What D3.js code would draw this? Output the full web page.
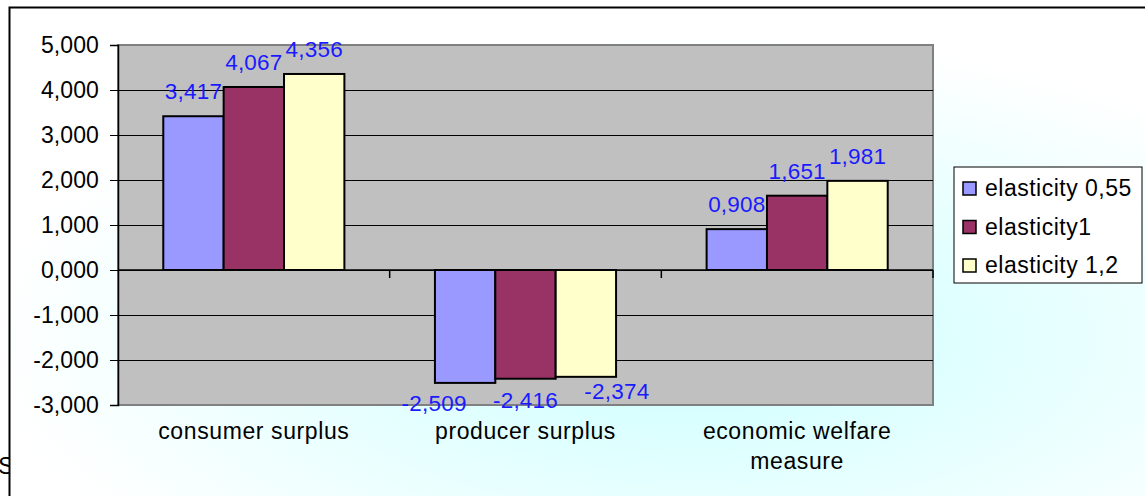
<!DOCTYPE html>
<html>
<head>
<meta charset="utf-8">
<script src="https://cdn.jsdelivr.net/npm/d3@7"></script>
<style>
  html, body { margin: 0; padding: 0; background: #fff; }
  svg text { font-family: Arial, "Liberation Sans", sans-serif; }
</style>
</head>
<body>
<div id="chart"></div>
<script>
// data
const categories = ["consumer surplus", "producer surplus", "economic welfare measure"]
const seriesNames = ["elasticity 0,55", "elasticity1", "elasticity 1,2"]
const elasticity055 = [3.417, -2.509, 0.908]
const elasticity1 = [4.067, -2.416, 1.651]
const elasticity12 = [4.356, -2.374, 1.981]
const yTicks = [-3, -2, -1, 0, 1, 2, 3, 4, 5]

// consts
const width = 1145
const height = 496
const plot = { left: 118, right: 933, top: 45, bottom: 405 }
const colors = ["#9999ff", "#993366", "#ffffcc"]
const gapWidth = 1.5 // excel gap width 150%
// excel pushed the negative labels apart a bit
const negLabelDx = [-31, 0, 31]
const negLabelDy = [28, 29, 22]

const series = [elasticity055, elasticity1, elasticity12]
const locale = d3.formatLocale({ decimal: ",", thousands: ".", grouping: [3], currency: ["", ""], minus: "-" })
const fmt = locale.format(".3f")

const svg = d3.select("#chart").append("svg")
  .attr("width", width)
  .attr("height", height)

// background gradient
const defs = svg.append("defs")
const grad = defs.append("radialGradient")
  .attr("id", "bg")
  .attr("cx", "60%").attr("cy", "68%").attr("r", "62%")
grad.append("stop").attr("offset", "0%").attr("stop-color", "#ccffff")
grad.append("stop").attr("offset", "45%").attr("stop-color", "#e3ffff")
grad.append("stop").attr("offset", "100%").attr("stop-color", "#ffffff")
defs.append("clipPath").attr("id", "leftclip")
  .append("rect").attr("x", 0).attr("y", 0).attr("width", 9).attr("height", height)

svg.append("rect")
  .attr("x", 9).attr("y", 7)
  .attr("width", width - 9).attr("height", height - 7)
  .attr("fill", "url(#bg)")

// outer border
svg.append("path")
  .attr("d", `M9.5,${height} V7.5 H${width}`)
  .attr("fill", "none")
  .attr("stroke", "#000")
  .attr("stroke-width", 2)

// stray letter from the page next to the chart
svg.append("text")
  .attr("x", -2).attr("y", 474)
  .attr("font-size", 24)
  .attr("clip-path", "url(#leftclip)")
  .text("S")

// scales
const x0 = d3.scaleBand().domain(categories).range([plot.left, plot.right])
const bw = x0.bandwidth()
const barW = bw / (series.length + gapWidth)
const x1 = d3.scaleBand().domain(d3.range(series.length))
  .range([barW * gapWidth / 2, bw - barW * gapWidth / 2])
const y = d3.scaleLinear().domain([yTicks[0], yTicks[yTicks.length - 1]]).range([plot.bottom, plot.top])

// plot area
svg.append("rect")
  .attr("x", plot.left).attr("y", plot.top)
  .attr("width", plot.right - plot.left).attr("height", plot.bottom - plot.top)
  .attr("fill", "#c0c0c0")
  .attr("stroke", "#808080")
  .attr("stroke-width", 2)

// gridlines
svg.append("g")
  .selectAll("line")
  .data(yTicks.slice(1, -1))
  .join("line")
  .attr("x1", plot.left).attr("x2", plot.right)
  .attr("y1", d => y(d) + 0.5).attr("y2", d => y(d) + 0.5)
  .attr("stroke", "#000")
  .attr("stroke-width", 1)

// y axis
const yAxis = svg.append("g")
  .attr("transform", `translate(${plot.left},0)`)
  .call(d3.axisLeft(y).tickValues(yTicks).tickFormat(fmt).tickSize(8).tickPadding(11))
yAxis.select(".domain").attr("stroke", "#000").attr("stroke-width", 1.5)
yAxis.selectAll(".tick line").attr("stroke", "#000")
yAxis.selectAll("text")
  .attr("font-size", 23)
  .attr("letter-spacing", 0.1)
  .attr("fill", "#000")
  .attr("font-family", "Arial, 'Liberation Sans', sans-serif")

// bars
const groups = svg.append("g")
  .selectAll("g")
  .data(categories)
  .join("g")
  .attr("transform", d => `translate(${x0(d)},0)`)

groups.selectAll("rect")
  .data((c, ci) => series.map((s, si) => ({ si, v: s[ci] })))
  .join("rect")
  .attr("x", d => x1(d.si))
  .attr("width", x1.bandwidth())
  .attr("y", d => y(Math.max(0, d.v)))
  .attr("height", d => Math.abs(y(d.v) - y(0)))
  .attr("fill", d => colors[d.si])
  .attr("stroke", "#000")
  .attr("stroke-width", 2)

// x axis line at zero + category ticks
svg.append("line")
  .attr("x1", plot.left).attr("x2", plot.right)
  .attr("y1", y(0)).attr("y2", y(0))
  .attr("stroke", "#000").attr("stroke-width", 1.5)
svg.append("g")
  .selectAll("line")
  .data(categories.slice(1).map(c => x0(c)).concat([plot.right]))
  .join("line")
  .attr("x1", d => d).attr("x2", d => d)
  .attr("y1", y(0)).attr("y2", y(0) + 8)
  .attr("stroke", "#000").attr("stroke-width", 1.5)

// data labels
groups.selectAll("text.val")
  .data((c, ci) => series.map((s, si) => ({ si, v: s[ci] })))
  .join("text")
  .attr("class", "val")
  .attr("x", d => x1(d.si) + x1.bandwidth() / 2 + (d.v < 0 ? negLabelDx[d.si] : 0))
  .attr("y", d => d.v >= 0 ? y(d.v) - 17 : y(d.v) + negLabelDy[d.si])
  .attr("text-anchor", "middle")
  .attr("font-size", 22.5)
  .attr("letter-spacing", 0.2)
  .attr("fill", "#1a1aff")
  .text(d => fmt(d.v))

// category labels, wrapped like excel did
const catLines = { "economic welfare measure": ["economic welfare", "measure"] }
const catText = svg.append("g")
  .selectAll("text")
  .data(categories)
  .join("text")
  .attr("x", d => x0(d) + bw / 2)
  .attr("y", 439)
  .attr("text-anchor", "middle")
  .attr("font-size", 23)
  .attr("letter-spacing", 0.6)
  .attr("fill", "#000")
catText.selectAll("tspan")
  .data(d => catLines[d] || [d])
  .join("tspan")
  .attr("x", function () { return d3.select(this.parentNode).attr("x") })
  .attr("dy", (d, i) => i === 0 ? 0 : 30)
  .text(d => d)

// legend
const legend = svg.append("g").attr("transform", "translate(954,167)")
legend.append("rect")
  .attr("width", 188).attr("height", 116)
  .attr("fill", "#fff")
  .attr("stroke", "#000")
  .attr("stroke-width", 1)
const items = legend.selectAll("g")
  .data(seriesNames)
  .join("g")
  .attr("transform", (d, i) => `translate(0,${21 + i * 38.5})`)
items.append("rect")
  .attr("x", 9).attr("y", -6)
  .attr("width", 13).attr("height", 13)
  .attr("fill", (d, i) => colors[i])
  .attr("stroke", "#000")
  .attr("stroke-width", 1.5)
items.append("text")
  .attr("x", 31).attr("y", 8)
  .attr("font-size", 23)
  .attr("letter-spacing", 0.5)
  .attr("fill", "#000")
  .text(d => d)
</script>
</body>
</html>
